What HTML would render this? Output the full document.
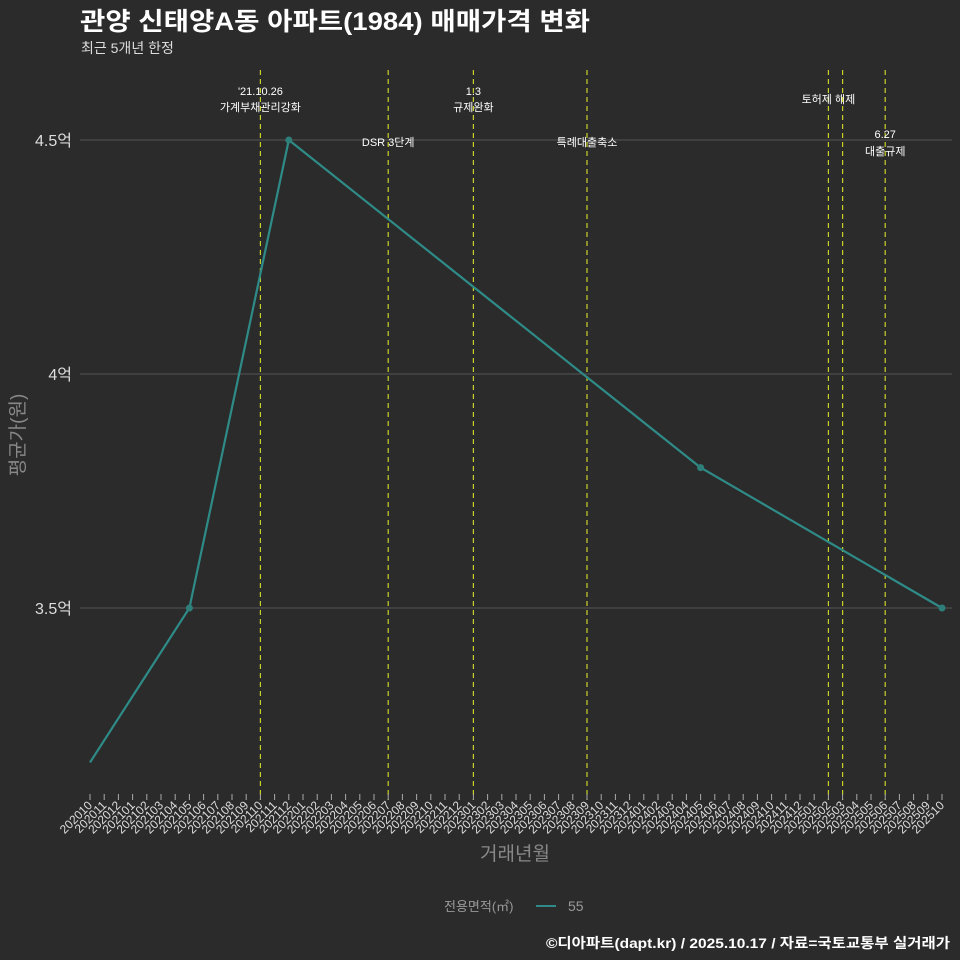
<!DOCTYPE html>
<html><head><meta charset="utf-8"><style>
html,body{margin:0;background:#2b2b2b;overflow:hidden;width:960px;height:960px;}
svg{display:block;}
svg text{font-family:"Liberation Sans","Noto Sans CJK KR",sans-serif;}
</style></head><body>
<svg id="c" width="960" height="960" xmlns="http://www.w3.org/2000/svg">
<rect width="960" height="960" fill="#2b2b2b"/>
<text x="80" y="30" fill="#fff" font-size="25" font-weight="bold" textLength="510" lengthAdjust="spacingAndGlyphs">관양 신태양A동 아파트(1984) 매매가격 변화</text>
<text x="81" y="53" fill="#ddd" font-size="14">최근 5개년 한정</text>
<g id="grid"></g><g id="events"></g><g id="xt"></g><g id="series"></g>
<text transform="translate(24,435) rotate(-90)" text-anchor="middle" fill="#888" font-size="19">평균가(원)</text>
<text x="515" y="860" text-anchor="middle" fill="#888" font-size="19">거래년월</text>
<g>
<text x="444" y="911" fill="#999" font-size="13">전용면적(㎡)</text>
<line x1="536" y1="906" x2="556" y2="906" stroke="#2e8b87" stroke-width="2"/>
<text x="568" y="911" fill="#999" font-size="14">55</text>
</g>
<text x="950" y="948" text-anchor="end" fill="#fff" font-size="14" font-weight="bold" textLength="404" lengthAdjust="spacingAndGlyphs">©디아파트(dapt.kr) / 2025.10.17 / 자료=국토교통부 실거래가</text>
</svg>
<script>
const months=[];for(let y=2020,m=10;!(y===2025&&m===11);){months.push(''+y+(m<10?'0':'')+m);m++;if(m>12){m=1;y++;}}
const pointMonths=['202010','202105','202112','202405','202510'];
const pointValues=[3.17,3.5,4.5,3.8,3.5];
const yTicks=[3.5,4,4.5];
const yTickLabels=['3.5억','4억','4.5억'];
const eventMonths=['202110','202207','202301','202309','202502','202503','202506'];
const eventLabels=[["'21.10.26","가계부채관리강화"],["DSR 3단계"],["1.3","규제완화"],["특례대출축소"],["토허제 해제"],[],["6.27","대출규제"]];
const eventLabelY=[[95,111],[146],[95,111],[146],[103],[],[138,155]];
const NS='http://www.w3.org/2000/svg';
const x=m=>90+months.indexOf(m)*(852/60);
const y=v=>608-(v-3.5)*468;
function mk(t,a,p){const e=document.createElementNS(NS,t);for(const k in a)e.setAttribute(k,a[k]);document.getElementById(p).appendChild(e);return e;}
yTicks.forEach((v,i)=>{
 const l=mk('line',{x1:80,x2:952,y1:y(v),y2:y(v),stroke:'#555','stroke-width':1},'grid');
 
 
 const t=mk('text',{x:72,y:y(v)+6,'text-anchor':'end',fill:'#ddd','font-size':16},'grid');t.textContent=yTickLabels[i];
 
 
});
eventMonths.forEach((m,i)=>{
 const l=mk('line',{x1:x(m),x2:x(m),y1:70,y2:800,stroke:'#c8d12a','stroke-width':1.2,'stroke-dasharray':'5,4'},'events');
 
 
 eventLabels[i].forEach((s,j)=>{const t=mk('text',{x:x(m),y:eventLabelY[i][j],'text-anchor':'middle',fill:'#fff','font-size':11},'events');t.textContent=s;
 
 });
});
months.forEach(m=>{
 const l=mk('line',{x1:x(m),x2:x(m),y1:794,y2:800,stroke:'#aaa'},'xt');
 
 
 const t=mk('text',{transform:`translate(${x(m)+3},806) rotate(-45)`,'text-anchor':'end',fill:'#ddd','font-size':12},'xt');t.textContent=m;
 
 
});
const p=mk('polyline',{points:pointMonths.map((m,i)=>x(m)+','+y(pointValues[i])).join(' '),fill:'none',stroke:'#2e8b87','stroke-width':2.2},'series');


pointMonths.forEach((m,i)=>{if(i===0)return;const c=mk('circle',{cx:x(m),cy:y(pointValues[i]),r:3.5,fill:'#2e7f7a'},'series');
 
 });
</script>
</body></html>
